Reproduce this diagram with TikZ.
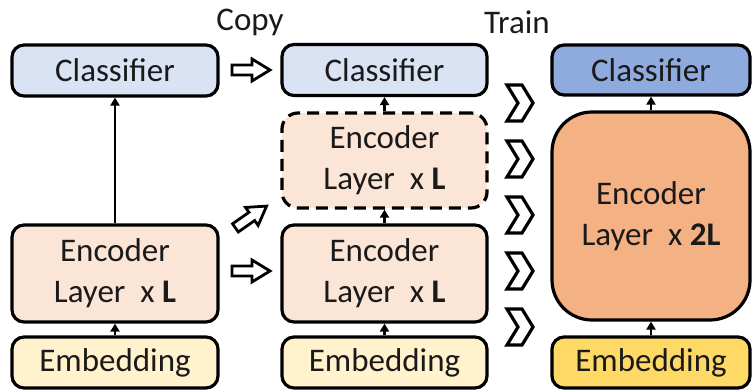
\documentclass[tikz,border=0pt]{standalone}
\usepackage{fontspec}
\setmainfont{Carlito}
\usetikzlibrary{arrows.meta}
\definecolor{clsL}{HTML}{DAE3F3}
\definecolor{clsD}{HTML}{8FAADC}
\definecolor{encL}{HTML}{FBE5D6}
\definecolor{encD}{HTML}{F4B183}
\definecolor{embL}{HTML}{FFF2CC}
\definecolor{embD}{HTML}{FFD966}
\definecolor{ink}{HTML}{1A1A1A}
\begin{document}
\begin{tikzpicture}[x=0.5pt,y=-0.5pt,
  box/.style={draw=black, line width=1.6pt, rounded corners=6pt, inner sep=0pt,
    text=ink, align=center, font=\fontsize{16.5pt}{20.5pt}\selectfont},
  small/.style={box, minimum width=103pt, minimum height=25.5pt},
  enc/.style={box, minimum width=103pt, minimum height=48.5pt},
  link/.style={line width=1.4pt, -{Triangle[length=4pt,width=4.5pt]}},
  lbl/.style={text=ink, font=\fontsize{16.5pt}{20.5pt}\selectfont},
  blockarrow/.pic={\draw[line width=1.4pt, fill=white, line join=miter]
    (-19,-5)--(1,-5)--(1,-11)--(19,0)--(1,11)--(1,5)--(-19,5)--cycle;},
  chevron/.pic={\draw[line width=1.6pt, fill=white, line join=miter]
    (-13,-18)--(2,-18)--(13,0)--(2,18)--(-13,18)--(-2,0)--cycle;}]
\useasboundingbox (0,0) rectangle (753,390);

% left column
\node[small, fill=clsL] (lcls) at (115,70.5) {Classifier};
\node[enc, fill=encL] (lenc) at (115,273.5) {Encoder\\Layer~~x~\textbf{L}};
\node[small, fill=embL] (lemb) at (115,362.5) {Embedding};

% middle column
\node[small, fill=clsL, minimum width=102.5pt] (mcls) at (384.5,70) {Classifier};
\node[enc, fill=encL, minimum width=102.5pt, minimum height=47.5pt, dashed,
  dash pattern=on 6pt off 3.5pt, rounded corners=8pt] (menc2) at (384.5,160.5) {Encoder\\Layer~~x~\textbf{L}};
\node[enc, fill=encL, minimum width=102.5pt] (menc) at (384.5,273.5) {Encoder\\Layer~~x~\textbf{L}};
\node[small, fill=embL, minimum width=102.5pt] (memb) at (384.5,362.5) {Embedding};

% right column
\node[small, fill=clsD, minimum width=99pt, minimum height=25pt] (rcls) at (651,70) {Classifier};
\node[box, fill=encD, minimum width=99pt, minimum height=104pt, rounded corners=20pt] (renc) at (651,216) {Encoder\\Layer~~x~\textbf{2L}};
\node[small, fill=embD, minimum width=99pt] (remb) at (651,362.5) {Embedding};

% connectors
\draw[link] (lemb) -- (lenc);
\draw[link] (lenc) -- (lcls);
\draw[link] (memb) -- (menc);
\draw[link] (menc) -- (menc2);
\draw[link] (menc2) -- (mcls);
\draw[link] (remb) -- (renc);
\draw[link] (renc) -- (rcls);

% copy arrows
\pic at (251,70) {blockarrow};
\pic[rotate=35] at (251,217) {blockarrow};
\pic at (251,271) {blockarrow};

% train chevrons
\foreach \yy in {103,159,215,271,327} \pic at (520,\yy) {chevron};

\node[lbl] (copy) at (250,22) {Copy};
\node[lbl] (train) at (517,22) {Train};
\end{tikzpicture}
\end{document}
